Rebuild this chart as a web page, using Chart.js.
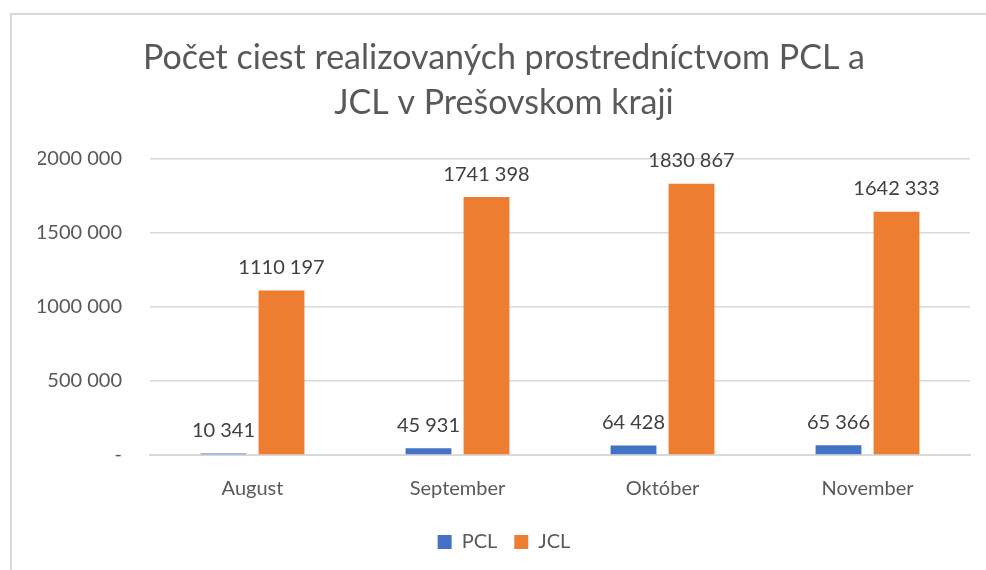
<!DOCTYPE html>
<html>
<head>
<meta charset="utf-8">
<script src="https://cdn.jsdelivr.net/npm/chart.js@4"></script>
<style>
  html, body { margin: 0; padding: 0; background: #fff; }
  #wrap { position: relative; width: 986px; height: 570px; overflow: hidden; }
  #frame { position: absolute; left: 10px; top: 13px; width: 990px; height: 600px;
           border-left: 2px solid #d9d9d9; border-top: 2px solid #d9d9d9; }
  canvas { position: absolute; left: 0; top: 0; }
</style>
</head>
<body>
<div id="wrap">
  <div id="frame"></div>
  <canvas id="chart" width="986" height="570"></canvas>
</div>
<script>
// Dáta z grafu
const months = ['August', 'September', 'Október', 'November'];
const pclValues = [10341, 45931, 64428, 65366];
const jclValues = [1110197, 1741398, 1830867, 1642333];
const titleLines = ['Počet ciest realizovaných prostredníctvom PCL a', 'JCL v Prešovskom kraji'];

const textColor = '#595959';
const fontFamily = 'Lato, "Open Sans", sans-serif';

// formát ako v Exceli: "1741 398", "10 341", nula ako "-"
function formatNumber(v) {
    if (v === 0) return '-';
    const thousands = Math.floor(v / 1000);
    const rest = String(v % 1000).padStart(3, '0');
    return thousands > 0 ? `${thousands} ${rest}` : String(v);
}

// popisky nad stĺpcami
const barLabels = {
    id: 'barLabels',
    afterDatasetsDraw(chart) {
        const ctx = chart.ctx;
        ctx.save();
        ctx.font = `20px ${fontFamily}`;
        ctx.fillStyle = '#404040';
        ctx.textAlign = 'center';
        ctx.textBaseline = 'middle';
        chart.data.datasets.forEach((ds, i) => {
            const meta = chart.getDatasetMeta(i);
            meta.data.forEach((bar, j) => {
                ctx.fillText(formatNumber(ds.data[j]), bar.x, bar.y - 23);
            });
        });
        ctx.restore();
    }
};

new Chart(document.getElementById('chart').getContext('2d'), {
    type: 'bar',
    data: {
        labels: months,
        datasets: [
            { label: 'PCL', data: pclValues, backgroundColor: '#4472C4' },
            { label: 'JCL', data: jclValues, backgroundColor: '#ED7D31' }
        ]
    },
    options: {
        responsive: false,
        animation: false,
        layout: { padding: { left: 38, right: 16, top: 0, bottom: 8 } },
        datasets: { bar: { barPercentage: 0.79, categoryPercentage: 0.566 } },
        plugins: {
            title: {
                display: true,
                text: titleLines,
                color: textColor,
                font: { family: fontFamily, size: 34, weight: 'normal', lineHeight: 1.32 },
                padding: { top: 36, bottom: 33 }
            },
            legend: {
                position: 'bottom',
                labels: {
                    color: textColor,
                    font: { family: fontFamily, size: 20 },
                    boxWidth: 14,
                    boxHeight: 14,
                    padding: 17
                }
            },
            tooltip: { enabled: false }
        },
        scales: {
            x: {
                grid: { display: false },
                border: { color: '#d9d9d9', width: 2 },
                ticks: { color: textColor, font: { family: fontFamily, size: 20 }, padding: 14 }
            },
            y: {
                min: 0,
                max: 2000000,
                afterFit(scale) { scale.width = 112; },
                border: { display: false },
                grid: { color: '#d9d9d9', lineWidth: 1.5, drawTicks: false },
                ticks: {
                    stepSize: 500000,
                    color: textColor,
                    font: { family: fontFamily, size: 20 },
                    padding: 28,
                    callback: v => formatNumber(v)
                }
            }
        }
    },
    plugins: [barLabels]
});
</script>
</body>
</html>
